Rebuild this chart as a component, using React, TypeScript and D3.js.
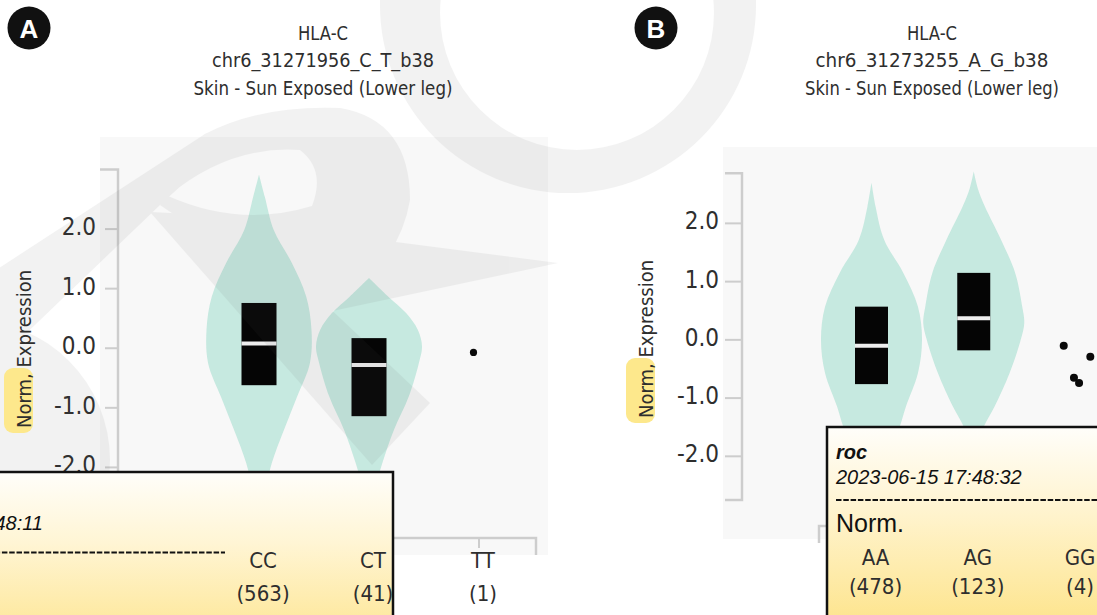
import React from "react";
import * as d3 from "d3";

const WIDTH = 1097;
const HEIGHT = 615;

const NARROW = "'DejaVu Sans Condensed', 'Liberation Sans Narrow', 'DejaVu Sans', sans-serif";
const ARIAL = "'Liberation Sans', Arial, sans-serif";
const INK = "#2e2e2e";

// ---------- Panel A: HLA-C eQTL, chr6_31271956_C_T_b38 ----------
const geneA = "HLA-C";
const variantA = "chr6_31271956_C_T_b38";
const tissueA = "Skin - Sun Exposed (Lower leg)";
const genotypesA = ["CC", "CT", "TT"];
const samplesA = [563, 41, 1];
const q1A = [-0.62, -1.14];
const medianA = [0.08, -0.28];
const q3A = [0.76, 0.17];
// violin outlines: [normalised expression, relative density]
const violinCC: [number, number][] = [
  [2.91, 0], [2.54, 0.11], [1.98, 0.28], [1.43, 0.62], [0.87, 0.89], [0.31, 0.99],
  [-0.25, 0.96], [-0.81, 0.72], [-1.37, 0.47], [-1.93, 0.24], [-2.5, 0.09], [-2.9, 0],
];
const violinCT: [number, number][] = [
  [1.18, 0], [0.87, 0.36], [0.59, 0.7], [0.31, 0.92], [0.03, 1], [-0.25, 0.94],
  [-0.81, 0.75], [-1.37, 0.47], [-1.93, 0.25], [-2.4, 0.1], [-2.8, 0],
];
const valuesTT = [-0.07];
const jitterTT = [-0.05];
const stampA = "2023-06-15 17:48:11";

// ---------- Panel B: HLA-C eQTL, chr6_31273255_A_G_b38 ----------
const geneB = "HLA-C";
const variantB = "chr6_31273255_A_G_b38";
const tissueB = "Skin - Sun Exposed (Lower leg)";
const genotypesB = ["AA", "AG", "GG"];
const samplesB = [478, 123, 4];
const q1B = [-0.76, -0.18];
const medianB = [-0.1, 0.37];
const q3B = [0.57, 1.15];
const violinAA: [number, number][] = [
  [2.7, 0], [2.29, 0.08], [1.72, 0.25], [1.15, 0.63], [0.57, 0.92], [0, 1],
  [-0.57, 0.92], [-1.15, 0.68], [-1.49, 0.56], [-2.0, 0.33], [-2.4, 0.12], [-2.7, 0],
];
const violinAG: [number, number][] = [
  [2.89, 0], [2.6, 0.08], [2.29, 0.22], [1.72, 0.54], [1.15, 0.82], [0.57, 0.96],
  [0.29, 1], [0, 0.93], [-0.57, 0.71], [-1.15, 0.41], [-1.49, 0.2], [-1.8, 0.08], [-2.0, 0],
];
const valuesGG = [-0.1, -0.29, -0.65, -0.74];
const jitterGG = [-0.12, 0.14, -0.02, 0.03];
const stampB = "2023-06-15 17:48:32";

const noteAuthor = "roc";
const noteTitle = "Norm.";
const yLabelHead = "Norm,";
const yLabelTail = " Expression";
const yTicks = [-2, -1, 0, 1, 2];

type Layout = {
  badge: [number, number];
  letter: string;
  titleX: number;
  titleWidths: [number, number, number];
  plot: { x: number; y: number; w: number; h: number };
  yDomain: [number, number];
  yRange: [number, number];
  xRange: [number, number];
  yAxisX: number;
  tickIn: number;
  tickOut: number;
  labelPad: number;
  xAxisY: number;
  xAxisFrom: number;
  xAxisTo: number;
  violinHalf: number;
  boxW: number;
  yLabelX: number;
  yLabelY: number;
  hl: { x: number; y: number; w: number; h: number };
  genoY: number;
  countY: number;
  pointR: number;
};

const layoutA: Layout = {
  badge: [29, 28],
  letter: "A",
  titleX: 323,
  titleWidths: [50, 222, 259],
  plot: { x: 100, y: 137, w: 448, h: 418 },
  yDomain: [-3, 3],
  yRange: [527, 169.5],
  xRange: [259, 479],
  yAxisX: 118,
  tickIn: 13,
  tickOut: 18,
  labelPad: 9,
  xAxisY: 538,
  xAxisFrom: 150,
  xAxisTo: 536,
  violinHalf: 53,
  boxW: 35,
  yLabelX: 31,
  yLabelY: 428,
  hl: { x: 4, y: 368, w: 29, h: 65 },
  genoY: 568,
  countY: 601,
  pointR: 3.6,
};

const layoutB: Layout = {
  badge: [656, 28],
  letter: "B",
  titleX: 932,
  titleWidths: [50, 233, 254],
  plot: { x: 723, y: 147, w: 400, h: 392 },
  yDomain: [-2.75, 2.86],
  yRange: [500, 173.3],
  xRange: [871.5, 1076],
  yAxisX: 742,
  tickIn: 17,
  tickOut: 17,
  labelPad: 6,
  xAxisY: 526,
  xAxisFrom: 819,
  xAxisTo: 1140,
  violinHalf: 50.5,
  boxW: 33,
  yLabelX: 653,
  yLabelY: 418,
  hl: { x: 626, y: 358, w: 29, h: 65 },
  genoY: 565,
  countY: 594,
  pointR: 4,
};

type PanelData = {
  gene: string;
  variant: string;
  tissue: string;
  genotypes: string[];
  samples: number[];
  violins: [number, number][][];
  q1: number[];
  median: number[];
  q3: number[];
  dots: number[];
  jitter: number[];
};

const dataA: PanelData = {
  gene: geneA, variant: variantA, tissue: tissueA, genotypes: genotypesA, samples: samplesA,
  violins: [violinCC, violinCT], q1: q1A, median: medianA, q3: q3A, dots: valuesTT, jitter: jitterTT,
};
const dataB: PanelData = {
  gene: geneB, variant: variantB, tissue: tissueB, genotypes: genotypesB, samples: samplesB,
  violins: [violinAA, violinAG], q1: q1B, median: medianB, q3: q3B, dots: valuesGG, jitter: jitterGG,
};

function scalesFor(L: Layout, D: PanelData) {
  const y = d3.scaleLinear().domain(L.yDomain).range(L.yRange);
  const x = d3.scalePoint<string>().domain(D.genotypes).range(L.xRange);
  return { x, y };
}

function PlotBody({ L, D }: { L: Layout; D: PanelData }) {
  const { x, y } = scalesFor(L, D);
  const w = d3.scaleLinear().domain([0, 1]).range([0, L.violinHalf]);
  const axisColor = "#cdcdcd";
  const lastCat = D.genotypes[D.genotypes.length - 1];
  return (
    <g>
      <rect x={L.plot.x} y={L.plot.y} width={L.plot.w} height={L.plot.h} fill="#f8f8f8" />
      {/* y axis with outer caps */}
      <path
        d={`M${L.yAxisX - L.tickOut},${y(L.yDomain[1])}H${L.yAxisX}V${y(L.yDomain[0])}H${L.yAxisX - L.tickOut}`}
        fill="none"
        stroke={axisColor}
        strokeWidth={2.5}
      />
      {yTicks.map((t) => (
        <g key={t}>
          <line x1={L.yAxisX - L.tickIn} x2={L.yAxisX} y1={y(t)} y2={y(t)} stroke={axisColor} strokeWidth={2} />
          <text
            x={L.yAxisX - L.tickIn - L.labelPad}
            y={y(t) - 2}
            textAnchor="end"
            dominantBaseline="central"
            fontFamily={NARROW}
            fontSize={24}
            fill={INK}
          >
            {t.toFixed(1)}
          </text>
        </g>
      ))}
      {/* x axis */}
      <path
        d={`M${L.xAxisFrom},${L.xAxisY + 17}V${L.xAxisY}H${L.xAxisTo}V${L.xAxisY + 17}`}
        fill="none"
        stroke={axisColor}
        strokeWidth={2.5}
      />
      {D.genotypes.map((g) => (
        <line key={g} x1={x(g)!} x2={x(g)!} y1={L.xAxisY} y2={L.xAxisY + 10} stroke={axisColor} strokeWidth={2} />
      ))}
      {/* violins */}
      {D.violins.map((v, i) => {
        const cx = x(D.genotypes[i])!;
        const area = d3
          .area<[number, number]>()
          .y((d) => y(d[0]))
          .x0((d) => cx - w(d[1]))
          .x1((d) => cx + w(d[1]))
          .curve(d3.curveCatmullRom.alpha(0.5));
        return <path key={i} d={area(v) ?? ""} fill="rgb(148,218,199)" fillOpacity={0.5} />;
      })}
      {/* interquartile boxes with median gap */}
      {D.q1.map((lo, i) => {
        const cx = x(D.genotypes[i])!;
        return (
          <g key={i}>
            <rect x={cx - L.boxW / 2} y={y(D.q3[i])} width={L.boxW} height={y(lo) - y(D.q3[i])} fill="#050505" />
            <line
              x1={cx - L.boxW / 2}
              x2={cx + L.boxW / 2}
              y1={y(D.median[i])}
              y2={y(D.median[i])}
              stroke="#eeeeee"
              strokeWidth={4}
            />
          </g>
        );
      })}
      {/* individual samples for the sparse genotype */}
      {D.dots.map((v, i) => (
        <circle key={i} cx={x(lastCat)! + D.jitter[i] * x.step()} cy={y(v)} r={L.pointR} fill="#0a0a0a" />
      ))}
    </g>
  );
}

function Header({ L, D }: { L: Layout; D: PanelData }) {
  const lines = [D.gene, D.variant, D.tissue];
  const baselines = [39.5, 67, 94.5];
  return (
    <g>
      <circle cx={L.badge[0]} cy={L.badge[1]} r={21.5} fill="#111" />
      <text
        x={L.badge[0]}
        y={L.badge[1] + 1}
        textAnchor="middle"
        dominantBaseline="central"
        fontFamily={ARIAL}
        fontWeight="bold"
        fontSize={26}
        fill="#fff"
      >
        {L.letter}
      </text>
      <g fontFamily={NARROW} fontSize={19.5} fill={INK} textAnchor="middle">
        {lines.map((s, i) => (
          <text key={i} x={L.titleX} y={baselines[i]} textLength={L.titleWidths[i]} lengthAdjust="spacingAndGlyphs">
            {s}
          </text>
        ))}
      </g>
    </g>
  );
}

function YLabel({ L }: { L: Layout }) {
  return (
    <g>
      <rect x={L.hl.x} y={L.hl.y} width={L.hl.w} height={L.hl.h} rx={9} fill="#fde88c" />
      <text
        transform={`translate(${L.yLabelX},${L.yLabelY}) rotate(-90)`}
        fontFamily={NARROW}
        fontSize={20}
        fill={INK}
      >
        <tspan>{yLabelHead}</tspan>
        <tspan>{yLabelTail}</tspan>
      </text>
    </g>
  );
}

function GenotypeLabels({ L, D }: { L: Layout; D: PanelData }) {
  const { x } = scalesFor(L, D);
  return (
    <g fontFamily={NARROW} fontSize={22} fill={INK} textAnchor="middle">
      {D.genotypes.map((g, i) => (
        <g key={g}>
          <text x={x(g)! + 4} y={L.genoY}>{g}</text>
          <text x={x(g)! + 4} y={L.countY}>{`(${D.samples[i]})`}</text>
        </g>
      ))}
    </g>
  );
}

// faint background logo lettering
function LogoMark() {
  return (
    <g opacity={0.075} fill="#5a5a5a">
      <path
        fillRule="evenodd"
        d="M380,5a188,188 0 1,0 376,0a188,188 0 1,0 -376,0Z M440,13a137,137 0 1,0 274,0a137,137 0 1,0 -274,0Z"
      />
      <path d="M-50,300L205,134L250,122L160,205L-10,368Z" />
      <path
        fillRule="evenodd"
        d="M160,205L205,134Q260,105 340,108Q410,120 410,200Q400,260 340,305L300,300Z M168,196Q230,145 300,150Q326,170 312,206Q240,228 168,196Z"
      />
      <path d="M300,235L357,237L558,263L323,313L290,300Z" />
      <path d="M150,212L232,216L430,403L372,465Z" />
      <circle cx={-30} cy={460} r={140} />
    </g>
  );
}

export default function App() {
  return (
    <svg
      width={WIDTH}
      height={HEIGHT}
      viewBox={`0 0 ${WIDTH} ${HEIGHT}`}
      style={{ position: "absolute", left: 0, top: 0, background: "#ffffff" }}
    >
      <defs>
        <linearGradient id="noteFillA" gradientUnits="userSpaceOnUse" x1={0} y1={472} x2={0} y2={650}>
          <stop offset="0" stopColor="#fffefa" />
          <stop offset="0.4" stopColor="#fff5d4" />
          <stop offset="1" stopColor="#fde48c" />
        </linearGradient>
        <linearGradient id="noteFillB" gradientUnits="userSpaceOnUse" x1={0} y1={427} x2={0} y2={625}>
          <stop offset="0" stopColor="#fffefa" />
          <stop offset="0.45" stopColor="#fff3cc" />
          <stop offset="1" stopColor="#fde48c" />
        </linearGradient>
      </defs>
      <rect width={WIDTH} height={HEIGHT} fill="#fff" />

      <PlotBody L={layoutA} D={dataA} />
      <PlotBody L={layoutB} D={dataB} />

      <LogoMark />

      <YLabel L={layoutA} />
      <YLabel L={layoutB} />
      <Header L={layoutA} D={dataA} />
      <Header L={layoutB} D={dataB} />

      {/* sticky note, panel A */}
      <rect x={-20} y={472} width={413} height={200} fill="url(#noteFillA)" stroke="#111" strokeWidth={2.5} />
      <text x={43} y={530} textAnchor="end" fontFamily={ARIAL} fontStyle="italic" fontSize={20} fill="#111">
        {stampA}
      </text>
      <line x1={-20} x2={225} y1={552.5} y2={552.5} stroke="#111" strokeWidth={2} strokeDasharray="5.5 1.8" />

      {/* sticky note, panel B */}
      <rect x={827} y={427} width={300} height={240} fill="url(#noteFillB)" stroke="#111" strokeWidth={2.5} />
      <text x={836} y={459} fontFamily={ARIAL} fontStyle="italic" fontWeight="bold" fontSize={20} fill="#111">
        {noteAuthor}
      </text>
      <text x={836} y={484} fontFamily={ARIAL} fontStyle="italic" fontSize={20} fill="#111">
        {stampB}
      </text>
      <line x1={836} x2={1100} y1={500} y2={500} stroke="#111" strokeWidth={2} strokeDasharray="5.5 1.8" />
      <text x={836} y={532} fontFamily={ARIAL} fontSize={25} fill="#111">
        {noteTitle}
      </text>

      <GenotypeLabels L={layoutA} D={dataA} />
      <GenotypeLabels L={layoutB} D={dataB} />
    </svg>
  );
}
